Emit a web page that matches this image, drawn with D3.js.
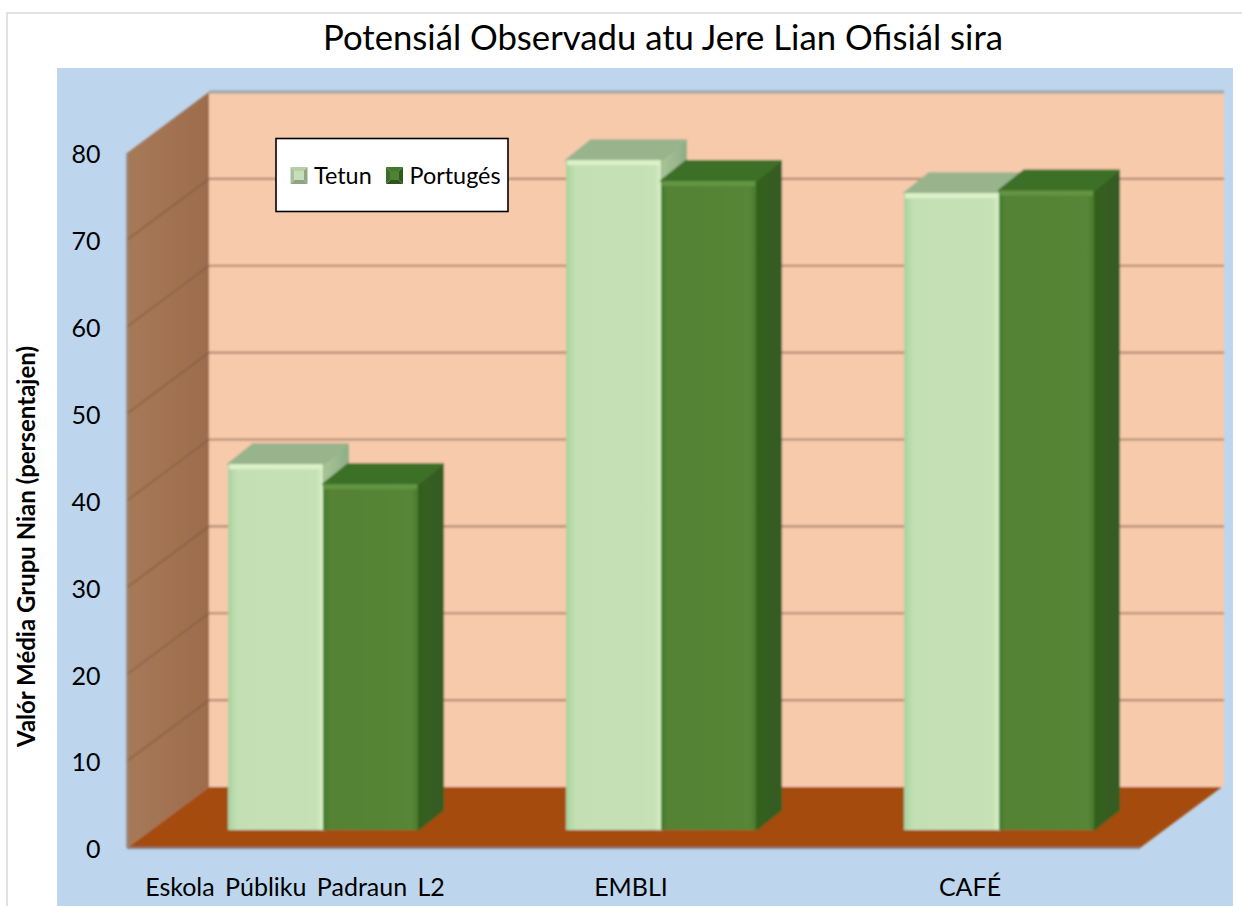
<!DOCTYPE html>
<html><head><meta charset="utf-8">
<script src="https://cdn.jsdelivr.net/npm/d3@7"></script>
<style>html,body{margin:0;padding:0;background:#fff}svg{display:block}text{font-family:Lato,"Open Sans",sans-serif;fill:#000}</style>
</head><body><div id="c"></div>
<script>
const categories = ["Eskola Públiku Padraun L2", "EMBLI", "CAFÉ"];
const seriesNames = ["Tetun", "Portugés"];
const tetun = [42.1, 77.1, 73.3];
const portuges = [39.8, 74.7, 73.6];
const yTicks = [0, 10, 20, 30, 40, 50, 60, 70, 80];
const titleText = "Potensiál Observadu atu Jere Lian Ofisiál sira";
const yTitle = "Valór Média Grupu Nian (persentajen)";

const W = 1242, H = 906;
const svg = d3.select("#c").append("svg").attr("width", W).attr("height", H);
const defs = svg.append("defs");
function grad(id, stops, x2 = 1, y2 = 0) {
  const g = defs.append("linearGradient").attr("id", id).attr("x1", 0).attr("y1", 0).attr("x2", x2).attr("y2", y2);
  stops.forEach(s => g.append("stop").attr("offset", s[0]).attr("stop-color", s[1]));
}
grad("gLight", [[0, "#a9cf9c"], [.03, "#aed8a5"], [.1, "#c3e0b4"], [.93, "#c5e1b5"], [1, "#d9efc6"]]);
grad("gDark", [[0, "#3f7a2c"], [.06, "#548235"], [.93, "#578637"], [1, "#4c7a2f"]]);
grad("gSideL", [[0, "#a9c499"], [1, "#8fae85"]]);
grad("gSideD", [[0, "#33611f"], [1, "#375a21"]]);
grad("gWall", [[0, "#a67a58"], [.5, "#a37252"], [1, "#9c6c4c"]]);
defs.append("filter").attr("id", "soft").attr("x", "-5%").attr("y", "-5%").attr("width", "110%").attr("height", "110%")
  .append("feGaussianBlur").attr("stdDeviation", 1);
defs.append("filter").attr("id", "softS").attr("x", "-10%").attr("y", "-10%").attr("width", "120%").attr("height", "120%")
  .append("feGaussianBlur").attr("stdDeviation", 0.5);

svg.append("rect").attr("x", 7).attr("y", 13).attr("width", 1240).attr("height", 900)
  .attr("fill", "#fff").attr("stroke", "#d9d9d9").attr("stroke-width", 1.5);
svg.append("rect").attr("x", 57).attr("y", 68).attr("width", 1176).attr("height", 838).attr("fill", "#bdd6ee");

// 3D frame
const yFront = d3.scaleLinear().domain([0, 80]).range([848, 153]);
const depthX = 82, depthY = -61;
const backX0 = 127 + depthX, backX1 = 1224;
const yBack = v => yFront(v) + depthY;
const line = d3.line();
const soft = svg.append("g").attr("filter", "url(#soft)");

soft.append("rect").attr("x", backX0).attr("y", yBack(80)).attr("width", backX1 - backX0).attr("height", yBack(0) - yBack(80))
  .attr("fill", "#f7caab");
soft.append("path").attr("d", line([[127, yFront(80)], [backX0, yBack(80)], [backX0, yBack(0)], [127, yFront(0)]]) + "Z")
  .attr("fill", "url(#gWall)");
soft.append("path").attr("d", line([[127, yFront(0)], [backX0, yBack(0)], [1222, yBack(0)], [1140, yFront(0)]]) + "Z")
  .attr("fill", "#a54b0d");
soft.selectAll("line.g").data(yTicks.slice(1)).join("line").attr("class", "g")
  .attr("x1", backX0).attr("x2", backX1).attr("y1", yBack).attr("y2", yBack)
  .attr("stroke", d => d === 80 ? "#9fa3a5" : "#b08a72").attr("stroke-width", d => d === 80 ? 3 : 2.2);
soft.selectAll("line.w").data(yTicks.slice(1, -1)).join("line").attr("class", "w")
  .attr("x1", 127).attr("x2", backX0).attr("y1", d => yFront(d)).attr("y2", yBack)
  .attr("stroke", "#8a5f45").attr("stroke-width", 1.5);
soft.append("line").attr("x1", 127).attr("x2", 1140).attr("y1", yFront(0)).attr("y2", yFront(0)).attr("stroke", "#8c7f78").attr("stroke-width", 2);
soft.append("line").attr("x1", 127).attr("x2", 127).attr("y1", yFront(80)).attr("y2", yFront(0)).attr("stroke", "#8f8a88").attr("stroke-width", 1.5);

// bars
const x0 = d3.scaleBand().domain(categories).range([154, 1168]).paddingInner(0.438).paddingOuter(0.219);
const x1 = d3.scaleBand().domain(seriesNames).range([0, x0.bandwidth()]);
const baseShift = 18, barDX = 25, barDY = -20;
const heightOf = v => yFront(0) - yFront(v);
const rows = [];
categories.forEach((c, i) => {
  rows.push({ c, s: "Tetun", v: tetun[i] });
  rows.push({ c, s: "Portugés", v: portuges[i] });
});
const bars = soft.selectAll("g.bar").data(rows).join("g").attr("class", "bar");
bars.each(function (d) {
  const g = d3.select(this), light = d.s === "Tetun";
  const x = x0(d.c) + x1(d.s), w = x1.bandwidth(), base = yFront(0) - baseShift, top = base - heightOf(d.v);
  const sideC = light ? "#90ad86" : "#34601f", topC = light ? "#98b48d" : "#3b6f27";
  g.append("path").attr("d", line([[x + w, top], [x + w + barDX, top + barDY], [x + w + barDX, base + barDY], [x + w, base]]) + "Z")
    .attr("fill", light ? "url(#gSideL)" : "url(#gSideD)").attr("stroke", sideC).attr("stroke-width", 2).attr("stroke-linejoin", "round");
  g.append("path").attr("d", line([[x, top], [x + barDX, top + barDY], [x + w + barDX, top + barDY], [x + w, top]]) + "Z")
    .attr("fill", topC).attr("stroke", topC).attr("stroke-width", 2).attr("stroke-linejoin", "round");
  g.append("rect").attr("x", x).attr("y", top).attr("width", w).attr("height", base - top)
    .attr("fill", light ? "url(#gLight)" : "url(#gDark)");
  g.append("rect").attr("x", x + 1).attr("y", top).attr("width", w - 2).attr("height", 5)
    .attr("fill", light ? "#dcf1c9" : "#639443");
});

// axis text
svg.append("g").attr("font-size", 25).selectAll("text").data(yTicks).join("text")
  .attr("x", 100.5).attr("y", d => yFront(d) + 1.5).attr("dy", "0.35em")
  .attr("text-anchor", "end").text(d => d);
const catCenters = [295, 631, 970];
svg.append("g").attr("font-size", 25).selectAll("text").data(categories).join("text")
  .attr("x", (d, i) => x0(d) + x0.bandwidth() / 2 + (catCenters[i] - x0(d) - x0.bandwidth() / 2))
  .attr("y", 896).attr("text-anchor", "middle").attr("word-spacing", 4).text(d => d);

svg.append("text").attr("x", 663).attr("y", 50).attr("text-anchor", "middle").attr("font-size", 34.7).text(titleText);
svg.append("text").attr("transform", "translate(35,546.5) rotate(-90)").attr("text-anchor", "middle")
  .attr("font-size", 24).attr("font-weight", 700).text(yTitle);

// legend
const lg = svg.append("g");
lg.append("rect").attr("x", 276).attr("y", 138.5).attr("width", 232).attr("height", 73).attr("fill", "#fff").attr("stroke", "#000").attr("stroke-width", 1.6);
const legendX = d3.scaleOrdinal().domain(seriesNames).range([290.5, 386]);
const legendFaces = {
  "Tetun": { t: "#b5cfa8", r: "#8fa888", b: "#8ea585", l: "#a6bf9c", c: "#c4e0b4" },
  "Portugés": { t: "#3f7a2c", r: "#2f5a1e", b: "#2d561c", l: "#3a6e28", c: "#4f8234" }
};
const legItems = lg.selectAll("g").data(seriesNames).join("g").attr("filter", "url(#softS)");
legItems.each(function (d) {
  const g = d3.select(this), x = legendX(d), y = 167, s = 17, b = 4, f = legendFaces[d];
  const tl = [x, y], tr = [x + s, y], br = [x + s, y + s], bl = [x, y + s];
  const itl = [x + b, y + b], itr = [x + s - b, y + b], ibr = [x + s - b, y + s - b], ibl = [x + b, y + s - b];
  [[[tl, tr, itr, itl], f.t], [[tr, br, ibr, itr], f.r], [[br, bl, ibl, ibr], f.b], [[bl, tl, itl, ibl], f.l], [[itl, itr, ibr, ibl], f.c]]
    .forEach(p => g.append("path").attr("d", line(p[0]) + "Z").attr("fill", p[1]));
});
lg.selectAll("text").data(seriesNames).join("text").attr("x", d => legendX(d) + 23.5).attr("y", 184).attr("font-size", 23.4).text(d => d);
</script></body></html>
